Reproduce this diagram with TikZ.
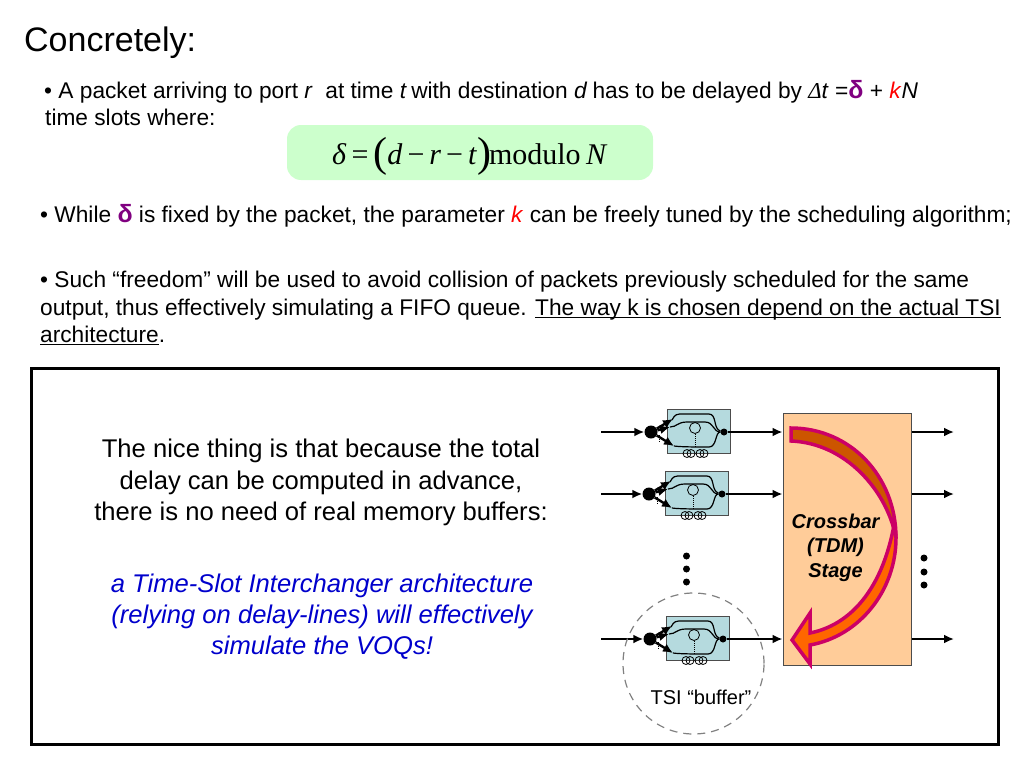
\documentclass[tikz,border=0pt]{standalone}
\usepackage{fontspec}
\setmainfont{Liberation Sans}
\newfontfamily\timesfont{Liberation Serif}
\usetikzlibrary{arrows.meta}

\definecolor{tsiblue}{RGB}{181,218,222}
\definecolor{xbarfill}{RGB}{255,204,153}
\definecolor{eqgreen}{RGB}{204,255,204}
\definecolor{deltapurple}{RGB}{128,0,128}
\definecolor{bandpink}{RGB}{204,0,102}
\definecolor{banddark}{RGB}{204,85,0}
\definecolor{bandlight}{RGB}{255,102,0}

\newcommand\bigdelta{\textcolor{deltapurple}{{\fontsize{25}{25}\selectfont\bfseries δ}}}
\newcommand\ulined[1]{\leavevmode\setbox0\hbox{#1}\rlap{\rule[-3pt]{\wd0}{1.2pt}}\box0}

\tikzset{
  body/.style={anchor=base west, inner sep=0pt, font=\fontsize{22.7}{26}\selectfont},
  mid/.style={anchor=base, inner sep=0pt, font=\fontsize{25.6}{29}\selectfont},
  voq/.style={anchor=base, inner sep=0pt, text=blue!80!black, font=\fontsize{25.6}{29}\selectfont\itshape},
  xbartxt/.style={anchor=base, inner sep=0pt, font=\fontsize{20}{23}\selectfont\bfseries\itshape},
  blob/.style={circle, fill=black, inner sep=0pt, minimum size=#1},
  link/.style={line width=2.4pt, -{Latex[length=10pt,width=9pt]}},
  tsi/.pic={
    %% delay-line box, origin at its top left corner
    \draw[draw=black!70, fill=tsiblue, line width=1pt] (0,0) rectangle (63,44);
    \node[blob=13pt] (-in) at (-16,23) {};
    \node[blob=7pt] (-out) at (57,23) {};
    \coordinate (-a) at (6,10);
    \coordinate (-b) at (3,18);
    \coordinate (-c) at (7,37);
    \draw[line width=1.2pt] (5,11) .. controls (8,5) and (10,5) .. (16,5) -- (42,5) .. controls (50,5) and (46,20) .. (-out);
    \draw[line width=1.2pt] (3,18) .. controls (10,18) and (10,13) .. (20,13) -- (38,13) .. controls (47,13) and (46,23) .. (-out);
    \draw[line width=1.2pt] (7,37) .. controls (14,38) and (30,38) .. (42,38) .. controls (50,38) and (48,23) .. (-out);
    \draw[line width=.8pt] (28,19) circle (5.5);
    \draw[line width=1pt, densely dotted] (28,25) -- (28,38);
    \draw[line width=.8pt] (20,44.5) circle (4);
    \draw[line width=.8pt] (24,44.5) circle (4);
    \draw[line width=.8pt] (33,44.5) circle (4);
    \draw[line width=.8pt] (37,44.5) circle (4);
    \draw[line width=2.4pt, -{Latex[length=10pt,width=9pt]}] (-in) -- (-a);
    \draw[line width=2.4pt, -{Latex[length=10pt,width=9pt]}] (-in) -- (-b);
    \draw[line width=2.4pt, -{Latex[length=10pt,width=9pt]}] (-in) -- (-c);
    \draw[line width=1pt, densely dotted] (-8,26) -- (-8,33);
  }
}

\begin{document}
\begin{tikzpicture}[x=1pt,y=-1pt]
\useasboundingbox (0,0) rectangle (1024,768);

%% title and text
\node[body, font=\fontsize{34}{38}\selectfont] (title) at (24,52) {Concretely:};
\node[body] (lineA) at (44,98) {• A packet arriving to port \textit{r}\ \ at time \textit{t}\kern-2pt{} with destination \textit{d}\kern-1pt{} has to be delayed by {\timesfont\itshape Δ}\textit{t} =\bigdelta{} + \textcolor{red}{\textit{k}}\textit{N}};
\node[body] (lineB) at (45,125) {time slots where:};
\node[body] (lineC) at (40,222) {• While \bigdelta{} is fixed by the packet, the parameter \textcolor{red}{\textit{k}} can be freely tuned by the scheduling algorithm;};
\node[body] (lineD) at (40,287) {• Such “freedom” will be used to avoid collision of packets previously scheduled for the same};
\node[body] (lineE) at (40,315) {output, thus effectively simulating a FIFO queue. \ulined{The way k is chosen depend on the actual TSI}};
\node[body] (lineF) at (40,342) {\ulined{architecture}.};

%% formula
\fill[eqgreen, rounded corners=14pt] (287,125) rectangle (653,180);
\node[anchor=base west, inner sep=0pt, font=\timesfont\fontsize{30}{34}\selectfont] (eq) at (332,164)
  {\textit{δ}\,=\,{\fontsize{42}{42}\selectfont\raisebox{-2pt}{(}}\textit{d}\,−\,\textit{r}\,−\,\textit{t}{\fontsize{42}{42}\selectfont\raisebox{-2pt}{)}}\kern-2pt modulo\kern-2pt{} \textit{N}};

%% frame
\draw[line width=3pt] (31,368) rectangle (998,744);
\node[mid] (niceA) at (321,457) {The nice thing is that because the total};
\node[mid] (niceB) at (321,489) {delay can be computed in advance,};
\node[mid] (niceC) at (321,520) {there is no need of real memory buffers:};
\node[voq] (voqA) at (322,592) {a Time-Slot Interchanger architecture};
\node[voq] (voqB) at (322,623) {(relying on delay-lines) will effectively};
\node[voq] (voqC) at (322,654) {simulate the VOQs!};

%% crossbar
\node[draw=black!70, fill=xbarfill, line width=1pt, minimum width=128pt, minimum height=252pt, inner sep=0pt] (xbar) at (847,539) {};

%% bent arrow
\draw[bandpink, line width=3.5pt, fill=banddark, line join=miter]
  (791,428) .. controls (850,428) and (896,476) .. (896,538) .. controls (887,490) and (845,443) .. (791,441) -- cycle;
\draw[bandpink, line width=3.5pt, fill=bandlight, line join=miter]
  (896,538) .. controls (896,590) and (860,636) .. (810,645) -- (810,664) -- (792,640) -- (810,613) -- (810,633)
  .. controls (850,625) and (882,590) .. (894,525) .. controls (895,530) and (896,534) .. (896,538) -- cycle;

\node[xbartxt] (xbarA) at (835.5,528) {Crossbar};
\node[xbartxt] (xbarB) at (835.5,552) {(TDM)};
\node[xbartxt] (xbarC) at (835.5,577) {Stage};

%% TSI units
\pic (one) at (667,409) {tsi};
\pic (two) at (665,471) {tsi};
\pic (three) at (666,616) {tsi};

%% free ends
\coordinate (inA) at (601,432);
\coordinate (inB) at (601,494);
\coordinate (inC) at (601,639);
\coordinate (toA) at (xbar.west |- inA);
\coordinate (toB) at (xbar.west |- inB);
\coordinate (toC) at (xbar.west |- inC);
\coordinate (fromA) at (xbar.east |- inA);
\coordinate (fromB) at (xbar.east |- inB);
\coordinate (fromC) at (xbar.east |- inC);
\coordinate (outA) at (954,432);
\coordinate (outB) at (954,494);
\coordinate (outC) at (954,639);

%% connectors
\draw[link] (inA) -- (one-in);
\draw[link] (inB) -- (two-in);
\draw[link] (inC) -- (three-in);
\draw[link] (one-out) -- (toA);
\draw[link] (two-out) -- (toB);
\draw[link] (three-out) -- (toC);
\draw[link] (fromA) -- (outA);
\draw[link] (fromB) -- (outB);
\draw[link] (fromC) -- (outC);

%% dots
\node[blob=7pt] (dotA) at (686.5,556) {};
\node[blob=7pt] (dotB) at (686.5,569) {};
\node[blob=7pt] (dotC) at (686.5,582) {};
\node[blob=7pt] (dotD) at (924,558) {};
\node[blob=7pt] (dotE) at (924,572) {};
\node[blob=7pt] (dotF) at (924,585) {};

%% TSI buffer
\node[draw=black!50, dash pattern=on 8pt off 6pt, line width=1.2pt, circle, minimum size=141pt, inner sep=0pt] (ring) at (693.5,663.5) {};
\node[anchor=base, inner sep=0pt, font=\fontsize{20}{23}\selectfont] (ringtxt) at (701,704) {TSI “buffer”};
\end{tikzpicture}
\end{document}
